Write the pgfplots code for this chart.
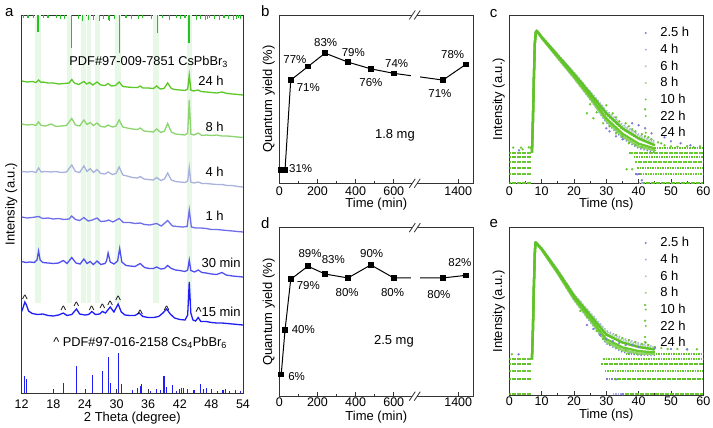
\documentclass[border=0pt]{standalone}
\usepackage{fontspec}
\setmainfont{Liberation Sans}
\usepackage{pgfplots}
\pgfplotsset{compat=1.18}
\definecolor{g24}{RGB}{92,200,40}
\definecolor{g8}{RGB}{140,212,110}
\definecolor{b4}{RGB}{168,178,220}
\definecolor{b1}{RGB}{110,110,235}
\definecolor{b30}{RGB}{80,80,240}
\definecolor{b15}{RGB}{30,30,245}
\definecolor{refg}{RGB}{35,195,35}
\definecolor{refb}{RGB}{30,30,240}
\definecolor{band}{RGB}{231,248,231}
\definecolor{t1}{RGB}{125,125,215}
\definecolor{t2}{RGB}{165,170,228}
\definecolor{t3}{RGB}{175,205,185}
\definecolor{t4}{RGB}{140,212,100}
\definecolor{t5}{RGB}{118,205,62}
\definecolor{t6}{RGB}{105,200,48}
\definecolor{t7}{RGB}{95,195,40}
\pgfplotsset{
 myax/.style={scale only axis, anchor=north west,
  axis line style={black!80, line width=0.8pt},
  tick align=inside, xtick pos=left, ytick=\empty,
  major tick length=4pt, minor tick length=2.5pt,
  every tick/.style={black!80, line width=0.8pt},
  /pgf/number format/assume math mode=true,
  tick label style={font=\fontsize{12.5}{15}\selectfont},
  label style={font=\fontsize{13}{15.6}\selectfont},
  xlabel style={at={(axis description cs:0.5,0)}, anchor=center},
  ylabel style={anchor=center}},
 rowdots/.style={line width=1.9pt, dash pattern=on 1.7pt off 0.8pt, forget plot},
 decay/.style={line width=2.2pt, dash pattern=on 1.6pt off 0.9pt, forget plot},
 sparse/.style={line width=1.6pt, dash pattern=on 1.3pt off 2pt, forget plot},
 solidd/.style={line width=2.3pt, line join=round, forget plot},
 noise/.style={only marks, mark=*, mark size=0.95pt, forget plot},
 trleg/.style={legend style={draw=none, fill=none, anchor=north west,
   font=\fontsize{13}{15.6}\selectfont, nodes={inner sep=1.5pt}, row sep=2.7pt, inner sep=0pt},
   legend cell align=left,
   legend image code/.code={\path[draw=none] (0,0) -- (16pt,0); \fill[draw=none] (3pt,0) circle (1.1pt);}},
}
\newcommand{\pl}[1]{\fontsize{11.5}{13}\selectfont #1}
\newcommand{\caret}{\fontsize{12}{14}\selectfont\textasciicircum}
\begin{document}
\begin{tikzpicture}
\useasboundingbox (0,0) rectangle (713pt,-428pt);
% ---------------- panel a
\begin{axis}[myax, at={(21.7pt,-15pt)}, width=221.3pt, height=378pt,
  xmin=12, xmax=54, ymin=0, ymax=378, xtick={12,18,...,54},
  xlabel={2 Theta (degree)}, ylabel={Intensity (a.u.)},
  xlabel style={yshift=-25pt}, xticklabel style={yshift=-3pt},
  ylabel style={at={(axis description cs:-0.0474,0.5)}}]
\addplot[fill=band, draw=none, forget plot] coordinates {(14.5,90)(14.5,378)(15.6,378)(15.6,90)} -- cycle;
\addplot[fill=band, draw=none, forget plot] coordinates {(20.6,90)(20.6,378)(21.6,378)(21.6,90)} -- cycle;
\addplot[fill=band, draw=none, forget plot] coordinates {(23.3,90)(23.3,378)(24.2,378)(24.2,90)} -- cycle;
\addplot[fill=band, draw=none, forget plot] coordinates {(24.4,90)(24.4,378)(25.1,378)(25.1,90)} -- cycle;
\addplot[fill=band, draw=none, forget plot] coordinates {(25.9,90)(25.9,378)(26.8,378)(26.8,90)} -- cycle;
\addplot[fill=band, draw=none, forget plot] coordinates {(29.7,90)(29.7,378)(30.9,378)(30.9,90)} -- cycle;
\addplot[fill=band, draw=none, forget plot] coordinates {(37.0,90)(37.0,378)(38.1,378)(38.1,90)} -- cycle;
\addplot[fill=band, draw=none, forget plot] coordinates {(43.3,90)(43.3,378)(44.4,378)(44.4,90)} -- cycle;
% top reference CsPbBr3
\addplot[refg, line width=1.1pt, unbounded coords=jump] coordinates {
(12.4,378)(12.4,375)(12.4,nan)(13.2,378)(13.2,375.5)(13.2,nan)(14.2,378)(14.2,375)(14.2,nan)(15.1,378)(15.1,361.3)(15.1,nan)(16.2,378)(16.2,375)(16.2,nan)(17,378)(17,374.7)(17,nan)
(18.6,378)(18.6,375)(18.6,nan)(19.4,378)(19.4,374)(19.4,nan)(20.2,378)(20.2,374)(20.2,nan)(21.45,378)(21.45,344.7)(21.45,nan)
(22.7,378)(22.7,374)(22.7,nan)(23.6,378)(23.6,372)(23.6,nan)(24.6,378)(24.6,373)(24.6,nan)
(25.7,378)(25.7,373)(25.7,nan)(26.8,378)(26.8,372.5)(26.8,nan)(27.6,378)(27.6,374.5)(27.6,nan)
(28.4,378)(28.4,373)(28.4,nan)(28.7,378)(28.7,372.3)(28.7,nan)(29.6,378)(29.6,374)(29.6,nan)
(30.6,378)(30.6,340.5)(30.6,nan)(31.8,378)(31.8,375)(31.8,nan)(32.8,378)(32.8,373.7)(32.8,nan)
(34.2,378)(34.2,374.3)(34.2,nan)(35,378)(35,375)(35,nan)(36.6,378)(36.6,374.3)(36.6,nan)
(37.7,378)(37.7,359.7)(37.7,nan)(38.8,378)(38.8,374.7)(38.8,nan)(40,378)(40,373)(40,nan)
(41.4,378)(41.4,375)(41.4,nan)(42.2,378)(42.2,374)(42.2,nan)(43.0,378)(43.0,375)(43.0,nan)
(43.75,378)(43.75,349.7)(43.75,nan)(45.1,378)(45.1,373)(45.1,nan)(45.9,378)(45.9,374.5)(45.9,nan)
(46.8,378)(46.8,373)(46.8,nan)(47.3,378)(47.3,374)(47.3,nan)(47.7,378)(47.7,375)(47.7,nan)(48.6,378)(48.6,374)(48.6,nan)
(49.5,378)(49.5,373.5)(49.5,nan)(50.4,378)(50.4,375)(50.4,nan)(51.3,378)(51.3,374)(51.3,nan)
(52.2,378)(52.2,373)(52.2,nan)(52.7,378)(52.7,374.5)(52.7,nan)(53.1,378)(53.1,375)(53.1,nan)(53.6,378)(53.6,374)(53.6,nan)};
% bottom reference Cs4PbBr6
\addplot[ycomb, refb, line width=1.1pt] coordinates {
(12.6,17)(12.9,14)(19.9,10)(22.4,27)(25.4,18)(27.4,22)(28.5,35.7)(28.9,10)(30.3,39.7)(30.9,9)
(33,3)(34,5)(34.5,7)(34.8,8.7)(36.5,2)(37.6,4)(38.4,3)(39,17)(39.4,6)(40.6,8)(41.3,2)
(42.3,5)(42.7,5)(43.5,4)(44.7,3)(46,9)(46.5,4)(47.1,5)(48,3)(49.2,2)(50.2,3)(50.6,4)(51.5,2)(52.5,3)(53.5,2)};
% 24 h
\addplot[g24, line width=1.3pt] coordinates {(12,312)(13,311)(14,311.5)(14.7,310.5)(15.2,313)(15.7,310.5)(16,311)(17,310)(18,310)(19,309)(20,309.5)(21,310)(21.5,313.5)(22,310)(22.8,308.5)(23.8,311.5)(24.3,309)(24.9,310.5)(25.5,308)(26.3,311)(27,308)(27.8,307.5)(28.4,309.5)(29,307)(29.8,307.5)(30.5,311)(31.2,306.5)(32,306)(33,305.5)(34,305.5)(34.5,307)(35,305)(36,305)(37,304.5)(37.6,307)(38.3,304)(39,304.5)(39.7,310)(40.4,304.5)(41,303.5)(42,303)(43,302.5)(43.5,304)(43.8,318)(44.1,303)(44.6,302)(45.5,303)(46,301.5)(47,301)(48,300.5)(49,300)(50,301)(51,299.5)(52,299)(53,298.5)(54,298)};
% 8 h
\addplot[g8, line width=1.3pt] coordinates {(12,269)(13,268)(14,268.5)(14.7,267.5)(15.2,271)(15.7,267.5)(16.5,267)(17.6,269)(18.5,266.5)(19.5,267)(20.5,267.5)(21.5,274.5)(22.2,268)(23,267)(23.8,273)(24.4,268.5)(25,270.5)(25.6,267.5)(26.3,270)(27,266.5)(27.8,266)(28.4,268)(29.2,266)(29.9,267)(30.5,273)(31.2,266)(32,265)(33,264)(34,263.5)(34.5,265)(35.2,262)(36,261.5)(37,261)(37.6,264)(38.4,260.5)(39.1,262)(39.7,269.5)(40.4,261)(41.2,259)(42,258.5)(43,258)(43.5,260)(43.8,293)(44.1,259)(44.7,258)(45.5,260)(46.2,257.5)(47,258)(48,257.5)(49,258)(50,257)(51,257)(52,256.5)(53,256)(54,255.5)};
% 4 h
\addplot[b4, line width=1.3pt] coordinates {(12,221.5)(13,221)(14,221.5)(14.7,220.5)(15.2,225)(15.7,221)(16.5,221.5)(17.5,221)(18.5,221.5)(19.5,220.5)(20.5,221)(21.5,228)(22.2,221.5)(23,220.5)(23.8,227)(24.4,221.5)(25,224.5)(25.6,220.5)(26.3,223.5)(27,219.5)(27.8,219)(28.4,221)(29.2,218.5)(29.9,219.5)(30.5,226)(31.2,218)(32,217)(33,215.5)(34,215)(34.5,216.5)(35.2,214)(36,213.5)(37,213)(37.6,215.5)(38.4,212.5)(39.1,214)(39.7,220)(40.4,213)(41.2,211.5)(42,211)(43,210.5)(43.5,212)(43.8,225.5)(44.1,211)(44.7,210)(45.5,211)(46.2,209.5)(47,209.5)(48,209)(49,208.5)(50,208.5)(51,207.5)(52,207.5)(53,206.5)(54,206)};
% 1 h
\addplot[b1, line width=1.3pt] coordinates {(12,176)(13,175)(14,175.5)(15.2,176.5)(16,174.5)(17,175)(18,174)(19,174.5)(20,173.5)(21,174)(21.5,177)(22.2,173.5)(23,172.5)(23.8,175.5)(24.6,172)(25.4,173)(26.3,175)(27,171.5)(28,172)(28.5,173)(29.3,171)(30.5,174.5)(31.3,170.5)(32.5,170.5)(33.5,169.5)(34.5,170)(35.3,168.5)(36.3,168)(37.6,169.5)(38.5,167)(39.7,172.5)(40.6,167)(41.5,166.5)(42.5,166)(43.4,166.5)(43.8,183)(44.2,166)(45,165)(46,165)(47,164.5)(48,163.5)(49,163.5)(50,163)(51,162.5)(52,162)(53,161.5)(54,161)};
% 30 min
\addplot[b30, line width=1.3pt] coordinates {(12,131.5)(12.8,130.5)(13.6,131)(14.4,130.5)(14.9,133)(15.2,142)(15.5,133)(16,130.5)(17,130)(18,129.5)(19,130)(19.9,132.5)(20.6,129.5)(21.5,135.5)(22.3,130)(23.1,129)(23.8,134)(24.4,129.5)(25,131.5)(25.6,128.5)(26.3,132)(27,128.5)(27.8,129.5)(28.1,132)(28.4,140)(28.8,131)(29.5,129)(30.2,132)(30.6,144.5)(31,131)(31.8,127.5)(32.6,127)(33.5,126.5)(34.5,129.5)(35.3,125.5)(36.2,124.5)(37,124.5)(37.6,126)(38.4,124)(39.1,124.5)(39.7,127.5)(40.4,124.5)(41.2,123)(42,122.5)(43,121.5)(43.5,123)(43.8,133)(44.1,122.5)(44.8,121)(45.5,123)(46.2,120.5)(47,120)(48,119)(49,118.5)(50,120.5)(50.8,118)(52,117)(53,116.5)(54,116)};
% 15 min
\addplot[b15, line width=1.3pt] coordinates {(12,81.5)(12.3,86)(12.6,91)(12.9,88)(13.3,82)(14,79.5)(15,78.5)(16,79)(17,77.5)(18,77)(19,78)(19.9,80)(20.6,77.5)(21.5,78.5)(22.4,84)(23,79)(24,78)(24.7,78.5)(25.3,81.5)(26,78.5)(26.8,79)(27.3,81.5)(27.9,80)(28.8,86)(29.5,81)(30.3,89)(30.9,81)(31.6,78)(32.5,77.5)(33.5,77.5)(34.3,80)(35,76.5)(36,75.5)(37,75.5)(38,76.5)(38.8,80)(39.5,84)(40.2,79)(41,75)(42,73.5)(43,73)(43.5,78)(43.8,111)(44.1,80)(44.5,73)(45,72)(45.5,75.5)(46,71.5)(47,71.5)(48,70.5)(49,70)(50,70)(51,69.5)(52,69)(53,68.5)(54,68)};
% labels
\node[font=\fontsize{12.8}{15}\selectfont] at (axis cs:36.1,331) {PDF\#97-009-7851 CsPbBr\textsubscript{3}};
\node[font=\fontsize{13}{15}\selectfont, anchor=east] at (axis cs:51,312) {24 h};
\node[font=\fontsize{13}{15}\selectfont, anchor=east] at (axis cs:51,266) {8 h};
\node[font=\fontsize{13}{15}\selectfont, anchor=east] at (axis cs:51,221) {4 h};
\node[font=\fontsize{13}{15}\selectfont, anchor=east] at (axis cs:51,177) {1 h};
\node[font=\fontsize{13}{15}\selectfont, anchor=west, inner sep=0pt] at (axis cs:46.1,130) {30 min};
\node[font=\fontsize{13}{15}\selectfont, anchor=west, inner sep=0pt] at (axis cs:44.95,81) {\textasciicircum 15 min};
\node[font=\fontsize{12.8}{15}\selectfont] at (axis cs:34.46,50) {\textasciicircum\ PDF\#97-016-2158 Cs\textsubscript{4}PbBr\textsubscript{6}};
\node[anchor=base, inner sep=0pt, yshift=-6.3pt] at (axis cs:12.6,96.3) {\caret};
\node[anchor=base, inner sep=0pt, yshift=-6.3pt] at (axis cs:19.9,85) {\caret};
\node[anchor=base, inner sep=0pt, yshift=-6.3pt] at (axis cs:22.4,88.7) {\caret};
\node[anchor=base, inner sep=0pt, yshift=-6.3pt] at (axis cs:25.3,85) {\caret};
\node[anchor=base, inner sep=0pt, yshift=-6.3pt] at (axis cs:27.3,87) {\caret};
\node[anchor=base, inner sep=0pt, yshift=-6.3pt] at (axis cs:28.8,90.3) {\caret};
\node[anchor=base, inner sep=0pt, yshift=-6.3pt] at (axis cs:30.3,94.7) {\caret};
\node[anchor=base, inner sep=0pt, yshift=-6.3pt] at (axis cs:34.5,81.3) {\caret};
\node[anchor=base, inner sep=0pt, yshift=-6.3pt] at (axis cs:39.5,85) {\caret};
\end{axis}
% ---------------- panel b
\begin{axis}[myax, at={(279.3pt,-15pt)}, width=194pt, height=168.3pt,
  xmin=0, xmax=1017, ymin=25, ymax=100, clip=false,
  xtick={0,200,400,600,938}, xticklabels={0,200,400,600,1400}, minor xtick={100,300,500},
  xlabel={Time (min)}, ylabel={Quantum yield (\%)},
  xlabel style={yshift=-20.5pt},
  ylabel style={at={(axis description cs:-0.054,0.5)}}]
\addplot[black, line width=1pt, mark=square*, mark size=2.3pt] coordinates {(10,31)(30,31)(60,71)(150,77)(240,83)(360,79)(480,76)(600,74)(858,71)(978,78)};
\addplot[fill=white, draw=none, forget plot] coordinates {(690,66)(690,80)(735,80)(735,66)} -- cycle;
\fill[white] ([yshift=-1.5pt]axis cs:697,100) rectangle ([yshift=1.5pt]axis cs:723,100);
\fill[white] ([yshift=-1.5pt]axis cs:697,25) rectangle ([yshift=1.5pt]axis cs:723,25);
\draw[black!80, line width=0.8pt] ([xshift=-3pt,yshift=-4.5pt]axis cs:697,100) -- ([xshift=3pt,yshift=4.5pt]axis cs:697,100);
\draw[black!80, line width=0.8pt] ([xshift=-3pt,yshift=-4.5pt]axis cs:723,100) -- ([xshift=3pt,yshift=4.5pt]axis cs:723,100);
\draw[black!80, line width=0.8pt] ([xshift=-3pt,yshift=-4.5pt]axis cs:697,25) -- ([xshift=3pt,yshift=4.5pt]axis cs:697,25);
\draw[black!80, line width=0.8pt] ([xshift=-3pt,yshift=-4.5pt]axis cs:723,25) -- ([xshift=3pt,yshift=4.5pt]axis cs:723,25);
\node at (axis cs:112,31.7) {\pl{31\%}};
\node at (axis cs:82,80) {\pl{77\%}};
\node at (axis cs:152,67.8) {\pl{71\%}};
\node at (axis cs:243,87.8) {\pl{83\%}};
\node at (axis cs:388,83.2) {\pl{79\%}};
\node at (axis cs:480,69.8) {\pl{76\%}};
\node at (axis cs:615,78.5) {\pl{74\%}};
\node at (axis cs:842,65.1) {\pl{71\%}};
\node at (axis cs:909,82.5) {\pl{78\%}};
\node[font=\fontsize{13}{15}\selectfont] at (axis cs:606,46.5) {1.8 mg};
\end{axis}
% ---------------- panel d
\begin{axis}[myax, at={(279.3pt,-227.7pt)}, width=194pt, height=168.5pt,
  xmin=0, xmax=1017, ymin=-10.6, ymax=118.5, clip=false,
  xtick={0,200,400,600,938}, xticklabels={0,200,400,600,1400}, minor xtick={100,300,500},
  xlabel={Time (min)}, ylabel={Quantum yield (\%)},
  xlabel style={yshift=-20.5pt}, xticklabel style={yshift=1.5pt},
  ylabel style={at={(axis description cs:-0.054,0.5)}}]
\addplot[black, line width=1pt, mark=square*, mark size=2.3pt] coordinates {(10,6)(30,40)(60,79)(150,89)(240,83)(360,80)(480,90)(600,80)(858,80)(978,82)};
\addplot[fill=white, draw=none, forget plot] coordinates {(690,74)(690,86)(735,86)(735,74)} -- cycle;
\fill[white] ([yshift=-1.5pt]axis cs:697,118.5) rectangle ([yshift=1.5pt]axis cs:723,118.5);
\fill[white] ([yshift=-1.5pt]axis cs:697,-10.6) rectangle ([yshift=1.5pt]axis cs:723,-10.6);
\draw[black!80, line width=0.8pt] ([xshift=-3pt,yshift=-4.5pt]axis cs:697,118.5) -- ([xshift=3pt,yshift=4.5pt]axis cs:697,118.5);
\draw[black!80, line width=0.8pt] ([xshift=-3pt,yshift=-4.5pt]axis cs:723,118.5) -- ([xshift=3pt,yshift=4.5pt]axis cs:723,118.5);
\draw[black!80, line width=0.8pt] ([xshift=-3pt,yshift=-4.5pt]axis cs:697,-10.6) -- ([xshift=3pt,yshift=4.5pt]axis cs:697,-10.6);
\draw[black!80, line width=0.8pt] ([xshift=-3pt,yshift=-4.5pt]axis cs:723,-10.6) -- ([xshift=3pt,yshift=4.5pt]axis cs:723,-10.6);
\node at (axis cs:91,4.3) {\pl{6\%}};
\node at (axis cs:126,40.4) {\pl{40\%}};
\node at (axis cs:152,74.2) {\pl{79\%}};
\node at (axis cs:161,99) {\pl{89\%}};
\node at (axis cs:283,94) {\pl{83\%}};
\node at (axis cs:356,69.2) {\pl{80\%}};
\node at (axis cs:484,99) {\pl{90\%}};
\node at (axis cs:594,69.2) {\pl{80\%}};
\node at (axis cs:837,67.6) {\pl{80\%}};
\node at (axis cs:947,91.8) {\pl{82\%}};
\node[font=\fontsize{13}{15}\selectfont] at (axis cs:601,31.4) {2.5 mg};
\end{axis}
% ---------------- panel c
\begin{axis}[myax, trleg, at={(509.3pt,-15pt)}, width=194pt, height=168.3pt,
  xmin=0, xmax=60, ymin=0, ymax=168.3, xtick={0,10,...,60}, minor x tick num=1,
  xlabel={Time (ns)}, ylabel={Intensity (a.u.)},
  xlabel style={yshift=-20.5pt},
  ylabel style={at={(axis description cs:-0.054,0.5)}},
  legend style={at={(0.687,0.9355)}}]
\addlegendimage{t1}\addlegendentry{2.5 h}
\addlegendimage{t2}\addlegendentry{4 h}
\addlegendimage{t3}\addlegendentry{6 h}
\addlegendimage{t4}\addlegendentry{8 h}
\addlegendimage{t5}\addlegendentry{10 h}
\addlegendimage{t6}\addlegendentry{22 h}
\addlegendimage{t7}\addlegendentry{24 h}
\addplot[rowdots, t6] coordinates {(0,30.7)(6.8,30.7)};
\addplot[rowdots, t7] coordinates {(0,26)(6.8,26)};
\addplot[rowdots, t6] coordinates {(0,21)(6.8,21)};
\addplot[rowdots, t7] coordinates {(0,15.7)(6.8,15.7)};
\addplot[rowdots, t6] coordinates {(0,9.3)(6.8,9.3)};
\addplot[rowdots, t7] coordinates {(0,0.7)(6.8,0.7)};
\addplot[rowdots, t7] coordinates {(44,35.7)(60,35.7)};
\addplot[rowdots, t6] coordinates {(37,30.7)(60,30.7)};
\addplot[rowdots, t7] coordinates {(38.5,26)(60,26)};
\addplot[rowdots, t6] coordinates {(39,21)(60,21)};
\addplot[rowdots, t7] coordinates {(39.5,15.7)(60,15.7)};
\addplot[rowdots, t1] coordinates {(39,9.3)(41,9.3)};
\addplot[rowdots, t6] coordinates {(40.5,9.3)(60,9.3)};
\addplot[rowdots, t2] coordinates {(40,0.7)(42,0.7)};
\addplot[rowdots, t7] coordinates {(41.5,0.7)(60,0.7)};
\addplot[sparse, t1] coordinates {(7.0,30.7)(7.3,62)(7.6,105)(7.9,140)(8.2,151)(8.5,152.5)(10,145)(15,125)(20,105)(25,84)(30,61)(35,45)(40,35)(45,31)};
\addplot[sparse, t2] coordinates {(7.0,30.7)(7.3,62)(7.6,105)(7.9,140)(8.2,151)(8.5,152.5)(10,147)(15,129)(20,111)(25,92)(30,73)(35,59)(40,49)(45,42)};
\addplot[decay, t3] coordinates {(7.0,30.7)(7.3,62)(7.6,105)(7.9,140)(8.2,151)(8.5,152.5)(10,146.8)(15,128.5)(20,110.3)(25,91)(30,71.5)(35,57.3)(40,47.3)(45,40.3)};
\addplot[solidd, t4] coordinates {(7.0,30.7)(7.3,62)(7.6,105)(7.9,140)(8.2,151)(8.5,152.5)(10,145.3)(15,125.5)(20,105.8)(25,85)(30,62.5)(35,46.8)(40,36.8)(45,32.8)};
\addplot[decay, t5] coordinates {(7.0,30.7)(7.3,62)(7.6,105)(7.9,140)(8.2,151)(8.5,152.5)(10,146.4)(15,127.7)(20,109)(25,89.4)(30,69.1)(35,54.5)(40,44.5)(45,38.3)};
\addplot[solidd, t6] coordinates {(7.0,30.7)(7.3,62)(7.6,105)(7.9,140)(8.2,151)(8.5,152.5)(10,145.7)(15,126.3)(20,107)(25,86.6)(30,64.9)(35,49.6)(40,39.6)(45,34.8)};
\addplot[solidd, t7] coordinates {(7.0,30.7)(7.3,62)(7.6,105)(7.9,140)(8.2,151)(8.5,152.5)(10,146.4)(15,127.8)(20,109.5)(25,90)(30,70)(35,55)(40,45)(45,38)};
\addplot[noise, t6] coordinates {(1.2,35.7)(3.6,35.7)(4.1,34)(6.0,36)(6.5,35.7)(28,75)(30,78)(32,70)(33,66)(34,62)(36,60)(37,57)(38,54)(39,52)(41,49)(42,47)(43,46)(44,44)(46,41)(47,40)(48,38)(50,37)(52,36.5)(55,37)(57,36)(59,37)(42,74)(36.3,14)(38,14)(24,70)(26,65)(29,60)(31,57)(33,50)(35,47)(37,40)(39,38)(41,36)(45,33)(27,71)(25,79)};
\addplot[noise, t1] coordinates {(3,33)(30,55)(31,52)(33,47)(35,44)(38,60)(40,58)(42,55)(44,50)(48,46)(50,42)(53,40)(56,38)(39.5,9)(41,3)};
\end{axis}
% ---------------- panel e
\begin{axis}[myax, trleg, at={(509.3pt,-227.7pt)}, width=194pt, height=167.3pt,
  xmin=0, xmax=60, ymin=0, ymax=167.3, xtick={0,10,...,60}, minor x tick num=1,
  xlabel={Time (ns)}, ylabel={Intensity (a.u.)},
  xlabel style={yshift=-20.5pt}, xticklabel style={yshift=1.5pt},
  ylabel style={at={(axis description cs:-0.054,0.5)}},
  legend style={at={(0.687,0.9515)}}]
\addlegendimage{t1}\addlegendentry{2.5 h}
\addlegendimage{t2}\addlegendentry{4 h}
\addlegendimage{t3}\addlegendentry{6 h}
\addlegendimage{t4}\addlegendentry{8 h}
\addlegendimage{t5}\addlegendentry{10 h}
\addlegendimage{t6}\addlegendentry{22 h}
\addlegendimage{t7}\addlegendentry{24 h}
\addplot[rowdots, t6] coordinates {(0,35.7)(6.8,35.7)};
\addplot[rowdots, t7] coordinates {(0,30.7)(6.8,30.7)};
\addplot[rowdots, t6] coordinates {(0,24.3)(6.8,24.3)};
\addplot[rowdots, t7] coordinates {(0,15.7)(6.8,15.7)};
\addplot[rowdots, t6] coordinates {(0,0.7)(6.8,0.7)};
\addplot[rowdots, t7] coordinates {(36,40.7)(60,40.7)};
\addplot[rowdots, t6] coordinates {(29,35.7)(60,35.7)};
\addplot[rowdots, t7] coordinates {(28.5,30.7)(60,30.7)};
\addplot[rowdots, t6] coordinates {(29.5,24.3)(60,24.3)};
\addplot[rowdots, t1] coordinates {(30,15.7)(33,15.7)};
\addplot[rowdots, t7] coordinates {(32.5,15.7)(60,15.7)};
\addplot[rowdots, t2] coordinates {(32,0.7)(35,0.7)};
\addplot[rowdots, t6] coordinates {(35,0.7)(60,0.7)};
\addplot[sparse, t1] coordinates {(7.0,35.7)(7.3,65)(7.6,108)(7.9,142)(8.1,152.7)(10,145)(15,121)(20,95)(25,73.5)(30,51.5)(35,43)(40,40)(45,40)};
\addplot[sparse, t2] coordinates {(7.0,35.7)(7.3,65)(7.6,108)(7.9,142)(8.1,152.7)(10,147)(15,125)(20,101)(25,82.5)(30,64.5)(35,57)(40,52)(45,48)};
\addplot[decay, t3] coordinates {(7.0,35.7)(7.3,65)(7.6,108)(7.9,142)(8.1,152.7)(10,146.8)(15,124.5)(20,100.3)(25,81.3)(30,62.8)(35,55.3)(40,50.5)(45,47)};
\addplot[solidd, t4] coordinates {(7.0,35.7)(7.3,65)(7.6,108)(7.9,142)(8.1,152.7)(10,145.3)(15,121.5)(20,95.8)(25,74.7)(30,53.2)(35,44.8)(40,41.5)(45,41)};
\addplot[decay, t5] coordinates {(7.0,35.7)(7.3,65)(7.6,108)(7.9,142)(8.1,152.7)(10,146.4)(15,123.7)(20,99)(25,79.5)(30,60.2)(35,52.5)(40,48.1)(45,45.4)};
\addplot[solidd, t6] coordinates {(7.0,35.7)(7.3,65)(7.6,108)(7.9,142)(8.1,152.7)(10,145.7)(15,122.3)(20,97)(25,76.5)(30,55.8)(35,47.6)(40,43.9)(45,42.6)};
\addplot[solidd, t7] coordinates {(7.0,35.7)(7.3,65)(7.6,108)(7.9,142)(8.1,152.7)(10,146.4)(15,123.8)(20,99.3)(25,79.8)(30,60.5)(35,52.5)(40,48)(45,45.5)};
\addplot[noise, t6] coordinates {(0.8,40.7)(33,60)(35,57)(37,55)(39,53)(41,51)(43,50)(45,48)(47,47)(49,46)(52,46)(55,45.7)(58,45.7)(42,90)(42,74.3)(42,58)(42,53)(27,64)(29,56)(31,51)(33,47)(36,45)(24,78)(22,84)};
\addplot[noise, t1] coordinates {(2.9,40.7)(24,70)(26,66)(28,60)(30,56)(32,54)(34,52)(36,50)(38,50)(40,48)(45,47)(50,46)(55,45.5)(33,15.7)(35,0.7)};
\end{axis}
% panel letters
\node[font=\fontsize{15}{18}\selectfont] at (9.2pt,-12.5pt) {a};
\node[font=\fontsize{15}{18}\selectfont] at (265.3pt,-11.3pt) {b};
\node[font=\fontsize{15}{18}\selectfont] at (493.7pt,-13.7pt) {c};
\node[font=\fontsize{15}{18}\selectfont] at (265.3pt,-223.3pt) {d};
\node[font=\fontsize{15}{18}\selectfont] at (493.7pt,-224pt) {e};
\end{tikzpicture}
\end{document}
